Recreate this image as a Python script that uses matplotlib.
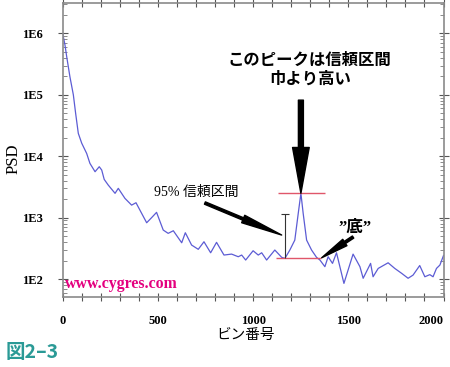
import matplotlib
matplotlib.use("Agg")
import matplotlib.pyplot as plt
from matplotlib.ticker import FixedLocator, MultipleLocator, LogLocator, NullFormatter

plt.rcParams['font.family'] = ['Liberation Serif', 'Noto Sans CJK JP']

# Data
bins = [0, 12, 21, 38, 56, 68, 82, 100, 126, 143, 170, 192, 205, 218, 239, 275, 292,
        327, 362, 385, 415, 441, 467, 493, 528, 554, 581, 625, 644, 677, 712, 742, 777,
        808, 847, 887, 922, 940, 961, 1000, 1027, 1045, 1071, 1114, 1150, 1167, 1193,
        1219, 1237, 1251, 1263, 1281, 1307, 1333, 1351, 1377, 1394, 1417, 1438, 1477,
        1525, 1561, 1578, 1617, 1630, 1657, 1709, 1744, 1780, 1814, 1840, 1875, 1902,
        1928, 1945, 1963, 1981, 2000]
psd = [1.0e6, 6.5e5, 4.2e5, 1.97e5, 1.0e5, 5.0e4, 2.36e4, 1.63e4, 1.11e4, 7.66e3, 5.6e3,
       6.75e3, 5.96e3, 4.2e3, 3.4e3, 2.49e3, 3.0e3, 2.06e3, 1.6e3, 1.75e3, 1.17e3, 826,
       1000, 1220, 628, 555, 612, 390, 568, 358, 305, 405, 268, 396, 246, 255, 231, 246,
       204, 289, 246, 268, 204, 297, 226, 217, 297, 431, 1170, 2490, 1170, 431, 297, 226,
       204, 159, 231, 180, 268, 85, 255, 159, 103, 180, 109, 149, 184, 149, 124, 103, 116,
       166, 109, 118, 109, 149, 169, 242]

peak_bin = 1251
peak_top = 2490
floor_level = 217
top_line = [1132, 1377]
floor_line = [1122, 1356]
ci_bin = 1167
ci_low, ci_high = 217, 1133

xtick_vals = [0, 500, 1000, 1500, 2000]
xtick_labels = ['0', '500', '1000', '1500', '2000']
ytick_vals = [1e2, 1e3, 1e4, 1e5, 1e6]
ytick_labels = ['1E2', '1E3', '1E4', '1E5', '1E6']

fig = plt.figure(figsize=(4.5, 3.67), dpi=100)
ax = fig.add_axes([0.1393, 0.1907, 0.8463, 0.8011])

ax.plot(bins, psd, color='#5c5cd4', lw=0.9)

# confidence band marks
ax.hlines(peak_top, top_line[0], top_line[1], color='#e0566a', lw=1)
ax.hlines(floor_level, floor_line[0], floor_line[1], color='#e0566a', lw=1)
ax.vlines(ci_bin, ci_low, ci_high, color='#333333', lw=0.8)
ax.hlines(ci_high, ci_bin - 21, ci_bin + 21, color='#333333', lw=0.8)

ax.set_yscale('log')
ax.set_xlim(0, 2000)
ax.set_ylim(51, 3.13e6)

ax.xaxis.set_major_locator(FixedLocator(xtick_vals))
ax.set_xticklabels(xtick_labels)
ax.xaxis.set_minor_locator(MultipleLocator(100))
ax.yaxis.set_major_locator(FixedLocator(ytick_vals))
ax.set_yticklabels(ytick_labels)
ax.yaxis.set_minor_locator(LogLocator(base=10, subs=range(2, 10)))
ax.yaxis.set_minor_formatter(NullFormatter())

for lab in ax.get_xticklabels() + ax.get_yticklabels():
    lab.set_fontweight('bold')
    lab.set_fontsize(9)
ax.get_xticklabels()[-1].set_ha('right')

ax.tick_params(axis='x', which='both', direction='inout', length=6, width=0.8,
               color='#555555', top=True, pad=10)
ax.tick_params(axis='y', which='major', direction='inout', length=7, width=0.8,
               color='#555555', right=True, pad=11)
ax.tick_params(axis='y', which='minor', direction='in', length=3, width=0.6,
               color='#777777', right=True)

for s in ax.spines.values():
    s.set_color('#8a8a8a')
    s.set_linewidth(1.2)

ax.set_xlabel('ビン番号', fontsize=10.5, va='center')
ax.xaxis.set_label_coords(0.481, -0.129)
ax.set_ylabel('PSD', fontsize=12, va='center')
ax.yaxis.set_label_coords(-0.130, 0.469)

# annotations
ax.text(1298, 2.54e5, 'このピークは信頼区間\n巾より高い', ha='center', va='center',
        fontsize=11.8, fontweight='bold', linespacing=1.25)
ax.annotate('', xy=(peak_bin, peak_top), xytext=(peak_bin, 8.2e4),
            arrowprops=dict(arrowstyle='simple,head_length=33,head_width=12,tail_width=3.6',
                            mutation_scale=1, color='black', shrinkA=0, shrinkB=0))

ax.text(700, 2.61e3, '95% 信頼区間', ha='center', va='center', fontsize=10)
ax.annotate('', xy=(1150, 521), xytext=(747, 1.73e3),
            arrowprops=dict(arrowstyle='simple,head_length=30,head_width=5.8,tail_width=1.8',
                            mutation_scale=1, color='black', shrinkA=0, shrinkB=0))

ax.text(1535, 676, '”底”', ha='center', va='center', fontsize=12, fontweight='bold')
ax.annotate('', xy=(1360, 222), xytext=(1525, 483),
            arrowprops=dict(arrowstyle='simple,head_length=20,head_width=5.5,tail_width=1.8',
                            mutation_scale=1, color='black', shrinkA=0, shrinkB=0))

fig.text(65 / 450, 1 - 284 / 367, 'www.cygres.com', color='#e4007f', fontsize=11.4,
         fontweight='bold', ha='left', va='center')
fig.text(6 / 450, 1 - 352 / 367, '図2–3', color='#2a9a96', fontsize=14,
         fontweight='bold', ha='left', va='center', family=['Noto Sans CJK JP', 'DejaVu Sans'])

fig.savefig('out.png', dpi=100)
